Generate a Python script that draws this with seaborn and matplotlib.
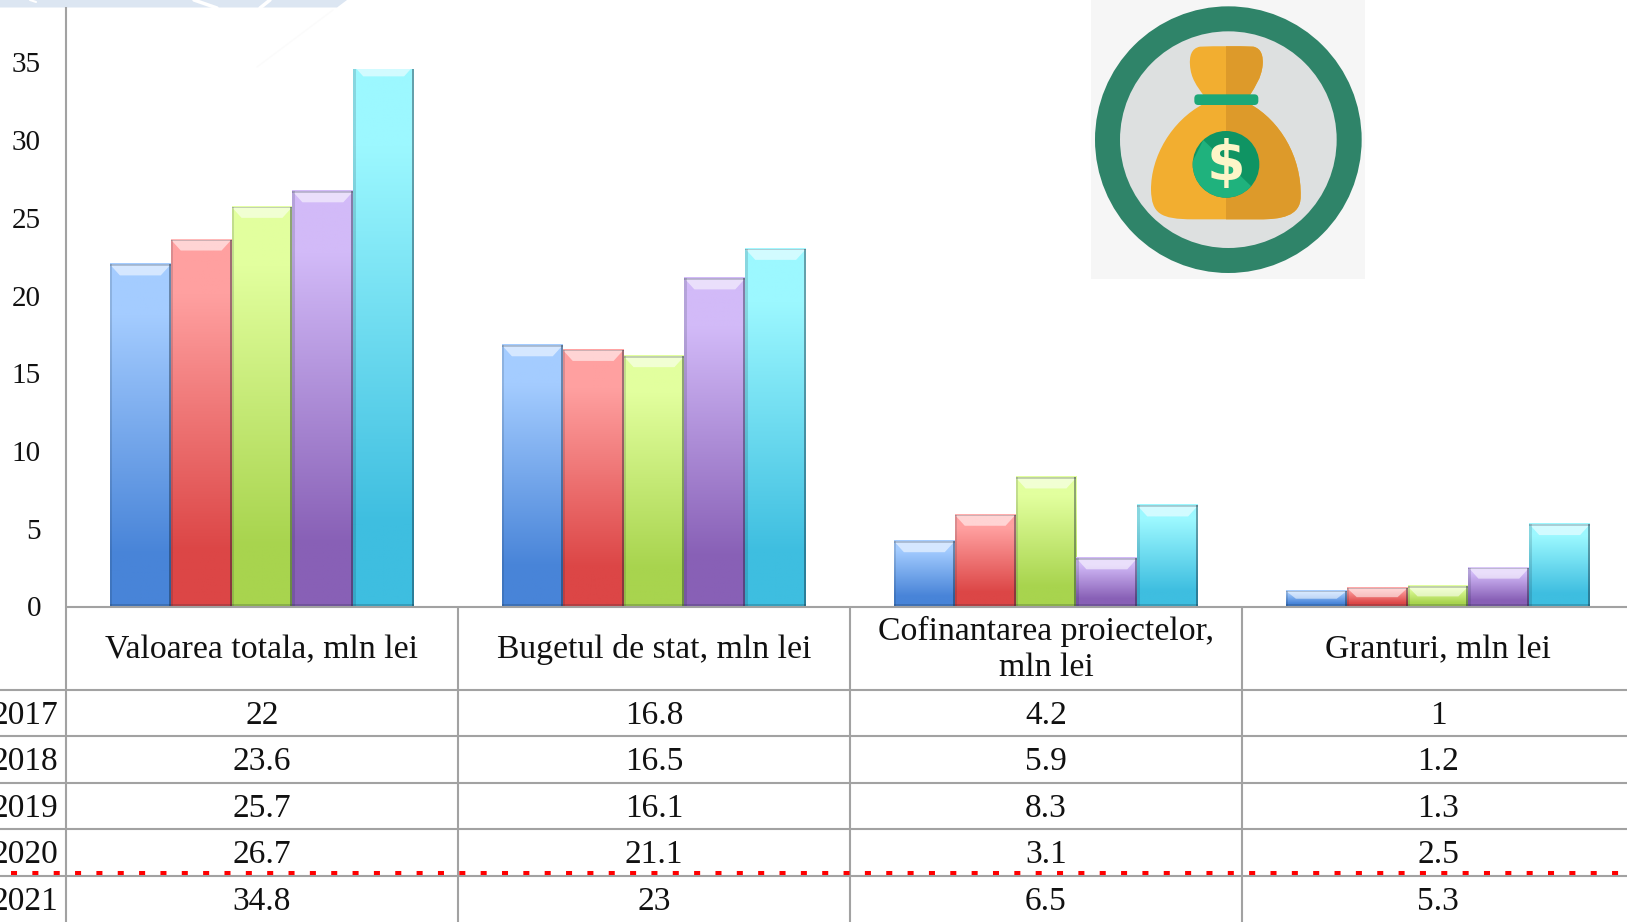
import numpy as np
import pandas as pd
import seaborn as sns
import matplotlib.pyplot as plt
from matplotlib.colors import LinearSegmentedColormap
from matplotlib.patches import Circle, FancyBboxPatch, PathPatch, Polygon, Rectangle
from matplotlib.path import Path

# Data
years = ["2017", "2018", "2019", "2020", "2021"]
categories = ["Valoarea totala, mln lei", "Bugetul de stat, mln lei",
              "Cofinantarea proiectelor,\nmln lei", "Granturi, mln lei"]
val_2017 = [22, 16.8, 4.2, 1]
val_2018 = [23.6, 16.5, 5.9, 1.2]
val_2019 = [25.7, 16.1, 8.3, 1.3]
val_2020 = [26.7, 21.1, 3.1, 2.5]
val_2021 = [34.8, 23, 6.5, 5.3]
all_years = [val_2017, val_2018, val_2019, val_2020, val_2021]

top_colors = ["#a4ccff", "#ffa0a0", "#e2ff9e", "#d2baf8", "#9cf8ff"]
bottom_colors = ["#4884d8", "#dc4646", "#a8d44e", "#8860b6", "#3ebee0"]

df = pd.DataFrame({
    "cat": [c for _ in years for c in categories],
    "year": [y for y in years for _ in categories],
    "value": [v for vals in all_years for v in vals],
})

W, H = 1627, 922
AX_LEFT, AX_TOP, BASE = 66, 7, 606.5
COL_W = 392
PX_PER_UNIT = 15.55
COL_EDGES = [66, 458, 850, 1242]
ROW_EDGES = [606.5, 690, 736, 783, 829, 876, 922]
GRID = "#a2a2a2"
TEXT = "#111111"

sns.set_theme(style="white")
plt.rcParams["font.family"] = ["Liberation Serif", "DejaVu Serif"]

fig = plt.figure(figsize=(W / 100, H / 100), dpi=100, facecolor="white")
ax = fig.add_axes([AX_LEFT / W, 1 - BASE / H, 4 * COL_W / W, (BASE - AX_TOP) / H])

sns.barplot(data=df, x="cat", y="value", hue="year", palette=bottom_colors,
            width=0.776, gap=0, saturation=1, legend=False, ax=ax)

ymax = (BASE - AX_TOP) / PX_PER_UNIT
px_x = 1 / COL_W
px_y = 1 / PX_PER_UNIT

# Glossy look: gradient plus bevel on every bar
for container, c_top, c_bot in zip(ax.containers, top_colors, bottom_colors):
    cmap = LinearSegmentedColormap.from_list("g", [(0, c_top), (0.15, c_top), (0.85, c_bot), (1, c_bot)])
    for bar in container:
        x0, y0 = bar.get_x(), bar.get_y()
        x1, y1 = x0 + bar.get_width(), y0 + bar.get_height()
        ax.imshow(np.linspace(0, 1, 256).reshape(-1, 1), extent=(x0, x1, y0, y1),
                  aspect="auto", cmap=cmap, zorder=2, clip_path=bar)
        bh = min(11 * px_y, bar.get_height() * 0.5)
        bw = 10 * px_x
        ax.add_patch(Polygon([(x0, y1), (x1, y1), (x1 - bw, y1 - bh), (x0 + bw, y1 - bh)],
                             fc="white", alpha=0.55, lw=0, zorder=3))
        ax.add_patch(Rectangle((x0, y1 - 1.5 * px_y), x1 - x0, 1.5 * px_y, fc="#203040", alpha=0.22, lw=0, zorder=4))
        ax.add_patch(Rectangle((x0, y0), 2.5 * px_x, y1 - y0, fc="#102030", alpha=0.15, lw=0, zorder=4))
        ax.add_patch(Rectangle((x1 - 2 * px_x, y0), 2 * px_x, y1 - y0, fc="#102030", alpha=0.4, lw=0, zorder=4))
        ax.add_patch(Rectangle((x0, y0), x1 - x0, 3 * px_y, fc="#102030", alpha=0.2, lw=0, zorder=4))

ax.set_xlim(-0.5, 3.5)
ax.set_ylim(0, ymax)
ax.set_yticks(range(0, 36, 5))
ax.set_xticks([])
ax.set_xlabel("")
ax.set_ylabel("")
ax.tick_params(axis="y", length=0, pad=18, labelsize=21, labelcolor=TEXT)
ax.patch.set_alpha(0)
for s in ax.spines.values():
    s.set_visible(False)

# Overlay in pixel coordinates: data table and decoration
deco = fig.add_axes([0, 0, 1, 1], zorder=5)
deco.set_xlim(0, W)
deco.set_ylim(H, 0)
deco.axis("off")

# cut off the top of the last bar, as in the original picture
deco.add_patch(Rectangle((350, 55), 68, 14, fc="white", lw=0))

# header strip
deco.add_patch(Polygon([(0, 0), (347, 0), (337, 7.5), (0, 7.5)], fc="#dce6f2", lw=0))
deco.plot([194, 217], [0, 8], color="white", lw=2.5)
deco.plot([270, 260], [0, 8], color="white", lw=2.5)
deco.plot([30, 36], [0, 2], color="white", lw=1.5)
deco.plot([333, 257], [10, 67], color="#fbfbfb", lw=1)

# table grid
for x in COL_EDGES:
    top = AX_TOP if x == COL_EDGES[0] else BASE
    deco.plot([x, x], [top, H], color=GRID, lw=1.5, solid_capstyle="butt")
for y in ROW_EDGES[:-1]:
    x_start = AX_LEFT if y == BASE else 0
    deco.plot([x_start, W], [y, y], color=GRID, lw=1.5, solid_capstyle="butt")

# red dotted line
deco.plot([11, W], [873, 873], color="#ff0000", lw=2.9, dashes=(1.5, 3.8), dash_capstyle="butt")

# table text
centers = [x + COL_W / 2 for x in COL_EDGES]
for cx, cat in zip(centers, categories):
    deco.text(cx, (ROW_EDGES[0] + ROW_EDGES[1]) / 2 + 1.5, cat, ha="center", va="center",
              fontsize=24.3, color=TEXT, linespacing=1.22)
for r, (year, vals) in enumerate(zip(years, all_years)):
    cy = (ROW_EDGES[r + 1] + ROW_EDGES[r + 2]) / 2
    deco.text(58, cy + 2.5, year, ha="right", va="center", fontsize=24, color=TEXT)
    for cx, v in zip(centers, vals):
        deco.text(cx, cy + 2.5, f"{v:g}", ha="center", va="center", fontsize=24, color=TEXT)


# money bag icon, coordinates from a 3x crop starting at x=1060
def ic(x, y):
    return (1060 + x / 3, y / 3)


def curve(points, **kw):
    verts = [ic(*p) for p in points]
    codes = [Path.MOVETO] + [Path.CURVE4] * (len(verts) - 1)
    return PathPatch(Path(verts, codes), lw=0, **kw)


deco.add_patch(Rectangle(ic(93, 0), 822 / 3, 838 / 3, fc="#f6f6f6", lw=0))
deco.add_patch(Circle(ic(505, 419), 400 / 3, fc="#2f8469", lw=0))
deco.add_patch(Circle(ic(505, 419), 325 / 3, fc="#dde0e0", lw=0))

neck = [(420, 140), (470, 138), (530, 138), (580, 140),
        (605, 145), (610, 170), (608, 195),
        (604, 235), (585, 260), (570, 285),
        (530, 285), (470, 285), (430, 285),
        (412, 260), (392, 235), (390, 195),
        (388, 170), (393, 145), (420, 140)]
body = [(430, 312), (470, 312), (530, 312), (570, 312),
        (660, 362), (725, 470), (722, 590),
        (722, 650), (660, 658), (600, 658),
        (530, 658), (470, 658), (400, 658),
        (300, 658), (275, 640), (273, 570),
        (272, 470), (335, 362), (430, 312)]
for pts in (neck, body):
    left = curve(pts, fc="#f2ae30")
    deco.add_patch(left)
    right = curve(pts, fc="#dd9a2a")
    deco.add_patch(right)
    right.set_clip_path(Rectangle(ic(498, 0), 100, 300, transform=deco.transData))

x0, y0 = ic(403, 283)
deco.add_patch(FancyBboxPatch((x0 + 4, y0 + 4), 64 - 8, 32 / 3 - 8, boxstyle="round,pad=4",
                              fc="#1ca777", lw=0))
coin = Circle(ic(498, 493), 100 / 3, fc="#0f9463", lw=0)
deco.add_patch(coin)
light = Polygon([ic(*p) for p in [(430, 420), (575, 560), (540, 600), (420, 600), (390, 500)]],
                fc="#1fb27d", lw=0)
deco.add_patch(light)
light.set_clip_path(coin)
deco.text(*ic(499, 495), "$", ha="center", va="center", fontsize=40, fontweight="bold",
          color="#fdf5c8", family="DejaVu Sans")

fig.savefig("out.png", dpi=100)
